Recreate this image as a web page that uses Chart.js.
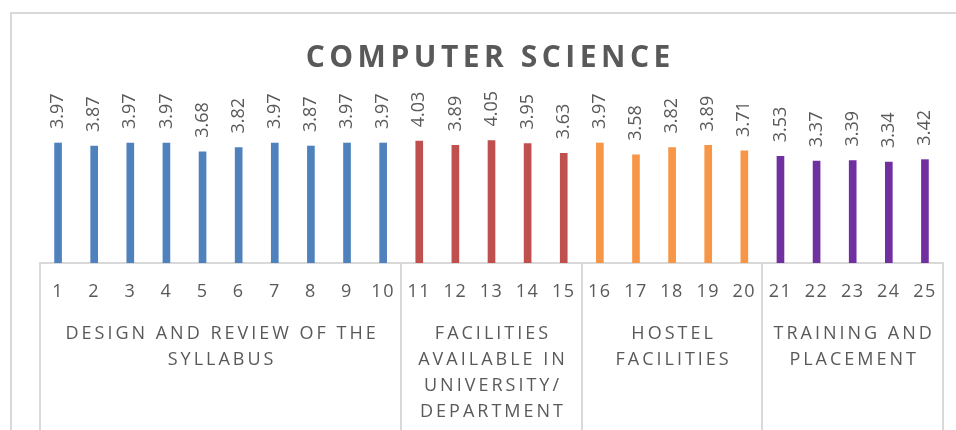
<!DOCTYPE html>
<html>
<head>
<meta charset="utf-8">
<script src="https://cdn.jsdelivr.net/npm/chart.js@4.4.1/dist/chart.umd.min.js"></script>
<style>
  html, body { margin: 0; padding: 0; background: #fff; }
  #wrap { position: relative; width: 956px; height: 430px; overflow: hidden; }
  #frame { position: absolute; left: 10px; top: 12px; width: 980px; height: 480px; border: 2px solid #d9d9d9; box-sizing: border-box; }
  #myChart { position: absolute; left: 0; top: 0; }
</style>
</head>
<body>
<div id="wrap">
  <div id="frame"></div>
  <canvas id="myChart" width="956" height="430"></canvas>
</div>
<script>
const chartTitle = 'COMPUTER SCIENCE';
const categories = ['1','2','3','4','5','6','7','8','9','10','11','12','13','14','15','16','17','18','19','20','21','22','23','24','25'];
const scores = [3.97, 3.87, 3.97, 3.97, 3.68, 3.82, 3.97, 3.87, 3.97, 3.97,
                4.03, 3.89, 4.05, 3.95, 3.63,
                3.97, 3.58, 3.82, 3.89, 3.71,
                3.53, 3.37, 3.39, 3.34, 3.42];
const groupSizes = [10, 5, 5, 5];
const groupLabels = [
    ['DESIGN AND REVIEW OF THE', 'SYLLABUS'],
    ['FACILITIES', 'AVAILABLE IN', 'UNIVERSITY/', 'DEPARTMENT'],
    ['HOSTEL', 'FACILITIES'],
    ['TRAINING AND', 'PLACEMENT']
];
const groupColors = ['#4f81bd', '#c0504d', '#f79646', '#7030a0'];

const textGray = '#595959';
const lineGray = '#d9d9d9';

// one colour per bar, taken from its group
const barColors = [];
groupSizes.forEach((n, g) => {
    for (let i = 0; i < n; i++) barColors.push(groupColors[g]);
});

// draws the spaced out title and widens the x tick labels a little
const titlePlugin = {
    id: 'spacedTitle',
    beforeDraw(chart) {
        chart.ctx.letterSpacing = '1.5px';
    },
    beforeDatasetsDraw(chart) {
        chart.ctx.letterSpacing = '0px';
    },
    afterDraw(chart) {
        const ctx = chart.ctx;
        ctx.save();
        ctx.font = 'bold 30px "Open Sans"';
        ctx.letterSpacing = '4.5px';
        ctx.fillStyle = textGray;
        ctx.textBaseline = 'middle';
        ctx.textAlign = 'left';
        const w = ctx.measureText(chartTitle).width - 4.5;
        ctx.fillText(chartTitle, 488 - w / 2, 58);
        ctx.restore();
    }
};

const valueLabels = {
    id: 'valueLabels',
    afterDatasetsDraw(chart) {
        const ctx = chart.ctx;
        const meta = chart.getDatasetMeta(0);
        ctx.save();
        ctx.font = '18px "Open Sans"';
        ctx.fillStyle = textGray;
        ctx.textAlign = 'left';
        ctx.textBaseline = 'middle';
        meta.data.forEach((bar, i) => {
            ctx.save();
            ctx.translate(bar.x, bar.y - 14);
            ctx.rotate(-Math.PI / 2);
            ctx.fillText(scores[i].toFixed(2), 0, 0);
            ctx.restore();
        });
        ctx.restore();
    }
};

const groupAxis = {
    id: 'groupAxis',
    afterDraw(chart) {
        const ctx = chart.ctx;
        const x = chart.scales.x;
        const area = chart.chartArea;
        const step = x.getPixelForValue(1) - x.getPixelForValue(0);
        const edge = i => x.getPixelForValue(i) - step / 2;
        ctx.save();
        ctx.strokeStyle = lineGray;
        ctx.lineWidth = 2;
        let start = 0;
        const bounds = [0];
        groupSizes.forEach(n => { start += n; bounds.push(start); });
        bounds.forEach(b => {
            const px = Math.round(edge(b));
            ctx.beginPath();
            ctx.moveTo(px, area.bottom);
            ctx.lineTo(px, chart.height);
            ctx.stroke();
        });
        ctx.font = '18px "Open Sans"';
        ctx.letterSpacing = '3px';
        ctx.fillStyle = textGray;
        ctx.textAlign = 'left';
        ctx.textBaseline = 'middle';
        groupLabels.forEach((lines, g) => {
            const cx = (edge(bounds[g]) + edge(bounds[g + 1])) / 2;
            lines.forEach((line, k) => {
                const w = ctx.measureText(line).width - 3;
                ctx.fillText(line, cx - w / 2, 334 + k * 26);
            });
        });
        ctx.restore();
    }
};

function createChart() {
    const ctx = document.getElementById('myChart').getContext('2d');
    new Chart(ctx, {
        type: 'bar',
        data: {
            labels: categories,
            datasets: [{
                data: scores,
                backgroundColor: barColors,
                barThickness: 7
            }]
        },
        options: {
            responsive: false,
            animation: false,
            layout: { padding: { left: 40, right: 13, top: 127, bottom: 0 } },
            plugins: {
                legend: { display: false },
                tooltip: { enabled: false },
                title: { display: false }
            },
            scales: {
                y: {
                    display: false,
                    min: 0,
                    max: 4.5
                },
                x: {
                    grid: { display: false, drawTicks: false },
                    border: { display: true, color: lineGray, width: 2 },
                    ticks: {
                        color: textGray,
                        font: { family: 'Open Sans', size: 18 },
                        padding: 18,
                        maxRotation: 0,
                        autoSkip: false
                    },
                    afterFit(scale) { scale.height = 167; }
                }
            }
        },
        plugins: [titlePlugin, valueLabels, groupAxis]
    });
}

createChart();
</script>
</body>
</html>
